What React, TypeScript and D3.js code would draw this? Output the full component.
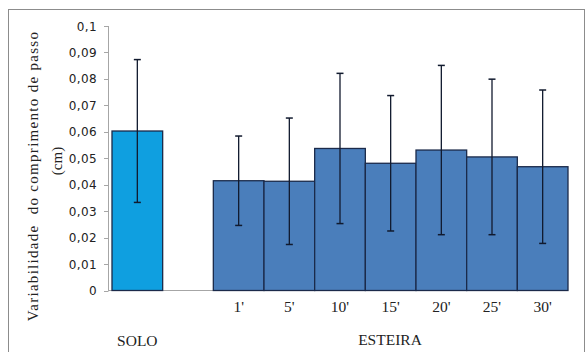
import React, { useEffect, useRef } from "react";
import * as d3 from "d3";

// categories (slot "" is the empty gap between SOLO and ESTEIRA)
const categories = ["SOLO", "", "1'", "5'", "10'", "15'", "20'", "25'", "30'"];
const means = [0.0603, null, 0.0415, 0.0413, 0.0537, 0.0481, 0.0531, 0.0505, 0.0468];
const sds = [0.027, null, 0.0169, 0.0239, 0.0284, 0.0256, 0.032, 0.0294, 0.029];
const yTicks = [0, 0.01, 0.02, 0.03, 0.04, 0.05, 0.06, 0.07, 0.08, 0.09, 0.1];

const serif = "Liberation Serif, Times New Roman, serif";

export default function App() {
  const ref = useRef<SVGSVGElement>(null);

  useEffect(() => {
    const svg = d3.select(ref.current);
    svg.selectAll("*").remove();

    const W = 587, H = 352;
    svg.attr("width", W).attr("height", H);

    svg.append("rect").attr("x", 8.5).attr("y", 9.5).attr("width", 576).attr("height", 360)
      .attr("fill", "#fff").attr("stroke", "#8c8c8c").attr("stroke-width", 1);

    const x = d3.scaleBand().domain(categories).range([112, 568]).padding(0);
    const y = d3.scaleLinear().domain([0, 0.1]).range([290.5, 26]);

    const g = svg.append("g");

    // y axis
    g.append("line").attr("x1", 108.5).attr("x2", 108.5).attr("y1", y(0.1)).attr("y2", y(0))
      .attr("stroke", "#a6a6a6");
    g.selectAll(".tick").data(yTicks).join("line")
      .attr("x1", 104).attr("x2", 108.5)
      .attr("y1", d => Math.round(y(d)) + 0.5).attr("y2", d => Math.round(y(d)) + 0.5)
      .attr("stroke", "#a6a6a6");
    g.selectAll(".tl").data(yTicks).join("text")
      .attr("x", 97).attr("y", d => y(d) + 4.5)
      .attr("text-anchor", "end")
      .attr("font-family", "DejaVu Sans, Verdana, sans-serif")
      .attr("font-size", 12).attr("letter-spacing", 0.4).attr("fill", "#222")
      .text(d => d3.format(".2~f")(d).replace(".", ","));

    // x axis
    g.append("line").attr("x1", 108).attr("x2", 568).attr("y1", 290.5).attr("y2", 290.5)
      .attr("stroke", "#a6a6a6");

    const data = categories.map((c, i) => ({ c, m: means[i], s: sds[i] })).filter(d => d.m !== null) as { c: string; m: number; s: number }[];

    g.selectAll(".bar").data(data).join("rect")
      .attr("x", d => x(d.c)!)
      .attr("y", d => y(d.m))
      .attr("width", x.bandwidth())
      .attr("height", d => y(0) - y(d.m))
      .attr("fill", d => (d.c === "SOLO" ? "#0f9fe0" : "#4a7ebb"))
      .attr("stroke", "#1b2a4a").attr("stroke-width", 1.3);

    // error bars
    const eb = g.selectAll(".eb").data(data).join("g");
    eb.append("line")
      .attr("x1", d => x(d.c)! + x.bandwidth() / 2).attr("x2", d => x(d.c)! + x.bandwidth() / 2)
      .attr("y1", d => y(d.m + d.s)).attr("y2", d => y(d.m - d.s))
      .attr("stroke", "#111a2e").attr("stroke-width", 1.3);
    eb.selectAll("line.cap").data(d => [d.m + d.s, d.m - d.s].map(v => ({ v, c: d.c }))).join("line")
      .attr("x1", d => x(d.c)! + x.bandwidth() / 2 - 3.5).attr("x2", d => x(d.c)! + x.bandwidth() / 2 + 3.5)
      .attr("y1", d => y(d.v)).attr("y2", d => y(d.v))
      .attr("stroke", "#111a2e").attr("stroke-width", 1.5);

    // category labels
    g.selectAll(".cl").data(categories.filter(c => c !== "" && c !== "SOLO")).join("text")
      .attr("x", d => x(d)! + x.bandwidth() / 2).attr("y", 312)
      .attr("text-anchor", "middle")
      .attr("font-family", serif)
      .attr("font-size", 15.5).attr("fill", "#222")
      .text(d => d);

    g.append("text").attr("x", x("SOLO")! + x.bandwidth() / 2).attr("y", 346)
      .attr("text-anchor", "middle").attr("font-family", serif)
      .attr("font-size", 15.5).attr("fill", "#222").text("SOLO");
    g.append("text").attr("x", 390).attr("y", 345)
      .attr("text-anchor", "middle").attr("font-family", serif)
      .attr("font-size", 15.5).attr("fill", "#222").text("ESTEIRA");

    // y label
    g.append("text").attr("transform", "translate(38,176) rotate(-90)")
      .attr("text-anchor", "middle").attr("font-family", serif)
      .attr("font-size", 15).attr("letter-spacing", 1.3).attr("fill", "#222")
      .style("white-space", "pre")
      .text("Variabilidade  do comprimento de passo");
    g.append("text").attr("transform", "translate(62,161) rotate(-90)")
      .attr("text-anchor", "middle").attr("font-family", serif)
      .attr("font-size", 15).attr("fill", "#222")
      .text("(cm)");
  }, []);

  return <svg ref={ref} style={{ position: "absolute", left: 0, top: 0 }} />;
}
